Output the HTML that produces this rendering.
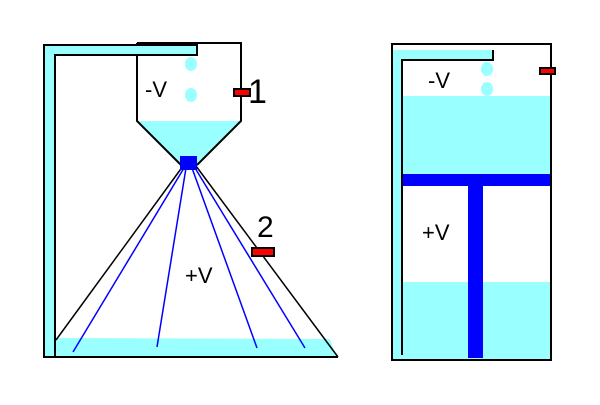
<!DOCTYPE html>
<html><head><style>body{margin:0;background:#fff}svg{display:block}</style></head><body>
<svg width="600" height="405" viewBox="0 0 600 405" xmlns="http://www.w3.org/2000/svg" font-family="Liberation Sans, sans-serif">
<rect width="600" height="405" fill="#fff"/>
<!-- left apparatus -->
<polygon points="137,121 241,121 197,163 180,163" fill="#99ffff"/>
<polyline points="137,43 241,43 241,121 197,165" fill="none" stroke="#000" stroke-width="2"/>
<polyline points="137,43 137,121 181,165" fill="none" stroke="#000" stroke-width="2"/>
<rect x="44" y="45" width="11" height="312" fill="#99ffff" stroke="#000" stroke-width="2"/>
<rect x="55" y="45" width="142" height="10" fill="#99ffff" stroke="#000" stroke-width="2"/>
<rect x="54" y="46" width="3" height="8" fill="#99ffff"/>
<ellipse cx="191" cy="64" rx="6" ry="7" fill="#99ffff"/>
<ellipse cx="191" cy="95" rx="6" ry="7" fill="#99ffff"/>
<text x="145" y="97" font-size="22">-V</text>
<rect x="234" y="89" width="16" height="7" fill="#f00" stroke="#000" stroke-width="2"/>
<text x="248" y="103" font-size="34">1</text>
<polygon points="56,338 330,339 336,357 56,357" fill="#99ffff"/>
<line x1="183" y1="166" x2="56" y2="340" stroke="#000" stroke-width="1.5"/>
<line x1="196" y1="166" x2="338" y2="357" stroke="#000" stroke-width="1.5"/>
<line x1="44" y1="357" x2="338" y2="357" stroke="#000" stroke-width="2"/>
<g stroke="#0000ff" stroke-width="1.5">
<line x1="184" y1="168" x2="73" y2="352"/>
<line x1="186" y1="168" x2="157" y2="347"/>
<line x1="192" y1="168" x2="257" y2="348"/>
<line x1="195" y1="168" x2="305" y2="348"/>
</g>
<rect x="180" y="156" width="17" height="14" fill="#0000ff"/>
<rect x="252" y="248" width="22" height="8" fill="#f00" stroke="#000" stroke-width="2"/>
<text x="257" y="237" font-size="30">2</text>
<text x="185" y="283" font-size="22">+V</text>
<!-- right apparatus -->
<rect x="403" y="96" width="148" height="79" fill="#99ffff"/>
<rect x="403" y="282" width="148" height="77" fill="#99ffff"/>
<rect x="392" y="50" width="11" height="310" fill="#99ffff"/>
<rect x="392" y="50" width="101" height="10" fill="#99ffff"/>
<polyline points="402,355 402,60 493,60 493,50" fill="none" stroke="#000" stroke-width="2"/>
<rect x="403" y="174" width="148" height="12" fill="#0000ff"/>
<rect x="468" y="186" width="15" height="172" fill="#0000ff"/>
<rect x="392" y="44" width="159" height="316" fill="none" stroke="#000" stroke-width="2"/>
<ellipse cx="487" cy="69" rx="6" ry="7" fill="#99ffff"/>
<ellipse cx="487" cy="89" rx="6" ry="7" fill="#99ffff"/>
<text x="428" y="88" font-size="22">-V</text>
<text x="422" y="240" font-size="22">+V</text>
<rect x="540" y="68" width="15" height="6" fill="#f00" stroke="#000" stroke-width="2"/>
</svg>
</body></html>
